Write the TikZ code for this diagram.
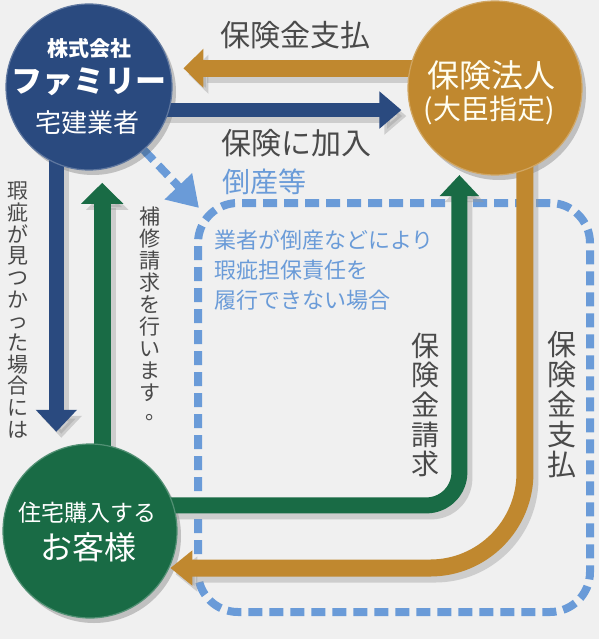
\documentclass[tikz,border=0pt]{standalone}
\usepackage{fontspec}
\setmainfont{Noto Sans CJK JP}
\usetikzlibrary{arrows.meta,calc}
\definecolor{famblue}{HTML}{2A4A7F}
\definecolor{hokenorange}{HTML}{C0882F}
\definecolor{kyakugreen}{HTML}{196B45}
\definecolor{dashblue}{HTML}{6A9BD8}
\definecolor{labelgray}{HTML}{4A4A4A}
\definecolor{bggray}{HTML}{F0F0F0}
\pgfdeclarelayer{back}
\pgfdeclarelayer{shade}
\pgfdeclarelayer{pipes}
\pgfsetlayers{back,shade,pipes,main}
\tikzset{
  party/.style={circle, fill=#1, draw=#1!75!white, line width=1.2pt, inner sep=0pt},
  partytext/.style={text=white, inner sep=0pt},
  pipe/.style={line width=#1, line join=round, shorten <=-12pt},
  shadowed/.style={draw=black!40, opacity=.4},
  plain/.style={},
  dashline/.style={dashblue, line width=8pt, dash pattern=on 14pt off 7pt},
  lbl/.style={text=labelgray, inner sep=0pt},
  bluelbl/.style={text=dashblue, inner sep=0pt},
  tate/.style={align=center, inner sep=0pt}
}
% the six flows, drawn once as shadow and once for real
\newcommand\flows[1]{
  \draw[pipe=17pt, hokenorange, #1, -{Triangle[width=38pt,length=20pt]}, shorten >=13pt] (hoken.167) -- (fam.13 |- hoken.167);
  \draw[pipe=14pt, famblue, #1, -{Triangle[width=36pt,length=22pt]}, shorten >=9pt] (fam.-16) -- (hoken.195 |- fam.-16);
  \draw[pipe=15pt, famblue, #1, -{Triangle[width=40pt,length=22pt]}, shorten >=18pt] (fam.247) -- (fam.247 |- kyaku.112);
  \draw[pipe=17pt, kyakugreen, #1, -{Triangle[width=41pt,length=21pt]}, shorten >=13pt] (kyaku.82) -- (kyaku.82 |- fam.-82);
  \draw[pipe=16pt, kyakugreen, #1, rounded corners=33pt, -{Triangle[width=38pt,length=21pt]}, shorten >=7pt] (kyaku.17) -| (hoken.246);
  \draw[pipe=17pt, hokenorange, #1, rounded corners=95pt, -{Triangle[width=34pt,length=22pt]}, shorten >=1pt] (hoken.290) |- (kyaku.-25);
}
\begin{document}
\begin{tikzpicture}[x=1pt,y=-1pt]
\useasboundingbox (0,0) rectangle (599,639);
\begin{pgfonlayer}{back}
  \fill[bggray] (0,0) rectangle (599,639);
\end{pgfonlayer}

% the three parties
\node[party=famblue, minimum size=166pt] (fam) at (89,87) {};
\node[party=hokenorange, minimum size=174pt] (hoken) at (495,88) {};
\node[party=kyakugreen, minimum size=174pt] (kyaku) at (90,531) {};

\node[partytext, font=\fontsize{21}{21}\selectfont\bfseries] at ($(fam)+(0,-39)$) {株式会社};
\node[partytext, font=\fontsize{31}{31}\selectfont\bfseries] at ($(fam)+(0,-5)$) {ファミリー};
\node[partytext, font=\fontsize{26}{26}\selectfont] at ($(fam)+(-2,36)$) {宅建業者};
\node[partytext, text=white!95!yellow, font=\fontsize{32}{32}\selectfont] at ($(hoken)+(-4,-13)$) {保険法人};
\node[partytext, text=white!95!yellow, font=\fontsize{28}{28}\selectfont] at ($(hoken)+(-6,22)$) {(大臣指定)};
\node[partytext, font=\fontsize{23}{23}\selectfont] at ($(kyaku)+(-3,-18)$) {住宅購入する};
\node[partytext, font=\fontsize{32}{32}\selectfont] at ($(kyaku)+(-2,16)$) {お客様};

% dashed frame
\begin{pgfonlayer}{back}
  \node[dashline, draw, rounded corners=40pt, minimum width=392pt, minimum height=409pt, inner sep=0pt] (frame) at (394,407.5) {};
  \draw[dashline, -{Triangle[width=36pt,length=30pt]}] (fam.-49) -- ([shift={(5pt,-9pt)}]frame.north west);
\end{pgfonlayer}

% shadows
\begin{pgfonlayer}{shade}
  \fill[black, opacity=.2] ($(fam)+(4,5)$) circle[radius=83];
  \fill[black, opacity=.2] ($(hoken)+(4,5)$) circle[radius=87];
  \fill[black, opacity=.2] ($(kyaku)+(4,5)$) circle[radius=87];
  \begin{scope}[transform canvas={shift={(5pt,-6pt)}}]
    \flows{shadowed}
  \end{scope}
\end{pgfonlayer}

% arrows
\begin{pgfonlayer}{pipes}
  \flows{plain}
\end{pgfonlayer}

% labels
\node[lbl, font=\fontsize{30}{30}\selectfont] (paytop) at (295,35) {保険金支払};
\node[lbl, font=\fontsize{30}{30}\selectfont] (join) at (296,143) {保険に加入};
\node[bluelbl, font=\fontsize{28}{28}\selectfont] (tosan) at (264,182) {倒産等};
\node[bluelbl, align=left, anchor=west, font=\fontsize{22}{30}\selectfont] (reason) at (214,270)
  {業者が倒産などにより\\瑕疵担保責任を\\履行できない場合};
\node[lbl, tate, font=\fontsize{21}{21.7}\selectfont] (found) at (18,310)
  {瑕\\疵\\が\\見\\つ\\か\\っ\\た\\場\\合\\に\\は};
\node[lbl, tate, font=\fontsize{21}{22}\selectfont] (repair) at (150,315)
  {補\\修\\請\\求\\を\\行\\い\\ま\\す\\\makebox[1em][l]{\hspace{.3em}\raisebox{.15em}{。}}};
\node[lbl, tate, font=\fontsize{28}{29.6}\selectfont] (claim) at (425,405)
  {保\\険\\金\\請\\求};
\node[lbl, tate, font=\fontsize{29}{30}\selectfont] (payside) at (562,405)
  {保\\険\\金\\支\\払};
\end{tikzpicture}
\end{document}
